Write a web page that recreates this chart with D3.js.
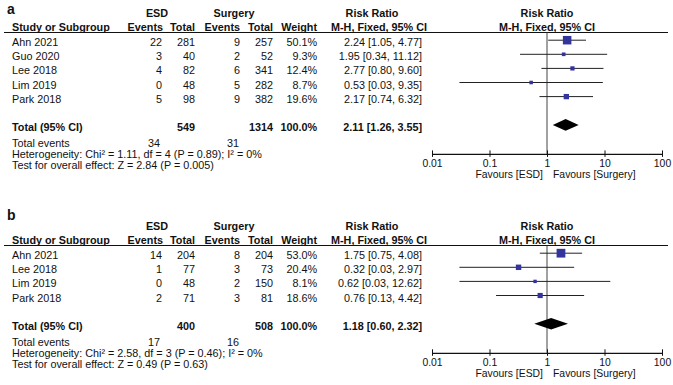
<!DOCTYPE html>
<html>
<head>
<meta charset="utf-8">
<script src="https://cdn.jsdelivr.net/npm/d3@7"></script>
<style>
  body { margin: 0; background: #fff; }
  text { font-family: "Liberation Sans", Arial, sans-serif; fill: #111; }
</style>
</head>
<body>
<div id="chart"></div>
<script>
// panel a
const studiesA = ["Ahn 2021", "Guo 2020", "Lee 2018", "Lim 2019", "Park 2018"];
const esdEventsA = [22, 3, 4, 0, 5];
const esdTotalA = [281, 40, 82, 48, 98];
const surgEventsA = [9, 2, 6, 5, 9];
const surgTotalA = [257, 52, 341, 282, 382];
const weightA = [50.1, 9.3, 12.4, 8.7, 19.6];
const rrA = [2.24, 1.95, 2.77, 0.53, 2.17];
const lowA = [1.05, 0.34, 0.80, 0.03, 0.74];
const highA = [4.77, 11.12, 9.60, 9.35, 6.32];
const totalA = {esd: 549, surg: 1314, esdEv: 34, surgEv: 31, rr: 2.11, lo: 1.26, hi: 3.55};
const hetA = "Heterogeneity: Chi² = 1.11, df = 4 (P = 0.89); I² = 0%";
const testA = "Test for overall effect: Z = 2.84 (P = 0.005)";

// panel b
const studiesB = ["Ahn 2021", "Lee 2018", "Lim 2019", "Park 2018"];
const esdEventsB = [14, 1, 0, 2];
const esdTotalB = [204, 77, 48, 71];
const surgEventsB = [8, 3, 2, 3];
const surgTotalB = [204, 73, 150, 81];
const weightB = [53.0, 20.4, 8.1, 18.6];
const rrB = [1.75, 0.32, 0.62, 0.76];
const lowB = [0.75, 0.03, 0.03, 0.13];
const highB = [4.08, 2.97, 12.62, 4.42];
const totalB = {esd: 400, surg: 508, esdEv: 17, surgEv: 16, rr: 1.18, lo: 0.60, hi: 2.32};
const hetB = "Heterogeneity: Chi² = 2.58, df = 3 (P = 0.46); I² = 0%";
const testB = "Test for overall effect: Z = 0.49 (P = 0.63)";

const axisTicks = [0.01, 0.1, 1, 10, 100];

const width = 673, height = 385;
const svg = d3.select("#chart").append("svg")
  .attr("width", width).attr("height", height);

const x = d3.scaleLog().domain([0.01, 100]).range([432, 662]);
const fmt = d3.format(".2f");

function drawPanel(label, top, labelY, p) {
  const g = svg.append("g").attr("transform", `translate(0,${top})`);
  const fs = 10.8;
  const rows = p.studies.map((s, i) => ({
    name: s, e1: p.e1[i], t1: p.t1[i], e2: p.e2[i], t2: p.t2[i],
    w: p.w[i], rr: p.rr[i], lo: p.lo[i], hi: p.hi[i]
  }));
  const rowY = i => 42.5 + i * 14.1;
  const lastY = rowY(rows.length - 1);
  const totY = lastY + 28, evY = totY + 16, hetY = evY + 11.7, testY = hetY + 10.7;
  const axY = lastY + 55;

  const txt = (xx, yy, s, anchor, bold, size) => g.append("text")
    .attr("x", xx).attr("y", yy).attr("dy", "0.35em")
    .attr("text-anchor", anchor || "start")
    .style("font-size", (size || fs) + "px")
    .style("font-weight", bold ? "bold" : "normal")
    .text(s);

  txt(7, labelY, label, "start", true, 14);

  // headers
  txt(157, 13.5, "ESD", "middle", true);
  txt(234, 13.5, "Surgery", "middle", true);
  txt(372, 13.5, "Risk Ratio", "middle", true);
  txt(547, 13.5, "Risk Ratio", "middle", true);
  txt(12, 27, "Study or Subgroup", "start", true);
  txt(163, 27, "Events", "end", true);
  txt(195, 27, "Total", "end", true);
  txt(240, 27, "Events", "end", true);
  txt(273, 27, "Total", "end", true);
  txt(317, 27, "Weight", "end", true);
  txt(379, 27, "M-H, Fixed, 95% CI", "middle", true);
  txt(547, 27, "M-H, Fixed, 95% CI", "middle", true);

  g.append("line").attr("x1", 4).attr("x2", 668).attr("y1", 32.5).attr("y2", 32.5)
    .attr("stroke", "#111").attr("stroke-width", 1.2);

  // table rows
  rows.forEach((d, i) => {
    const y = rowY(i);
    txt(12, y, d.name);
    txt(162, y, d.e1, "end");
    txt(195, y, d.t1, "end");
    txt(240, y, d.e2, "end");
    txt(273, y, d.t2, "end");
    txt(317, y, d.w.toFixed(1) + "%", "end");
    txt(422, y, `${fmt(d.rr)} [${fmt(d.lo)}, ${fmt(d.hi)}]`, "end");
  });

  txt(12, totY, "Total (95% CI)", "start", true);
  txt(195, totY, p.total.esd, "end", true);
  txt(273, totY, p.total.surg, "end", true);
  txt(317, totY, "100.0%", "end", true);
  txt(422, totY, `${fmt(p.total.rr)} [${fmt(p.total.lo)}, ${fmt(p.total.hi)}]`, "end", true);
  txt(12, evY, "Total events");
  txt(160, evY, p.total.esdEv, "end");
  txt(239, evY, p.total.surgEv, "end");
  txt(12, hetY, p.het);
  txt(12, testY, p.test);

  // null line
  g.append("line").attr("x1", x(1)).attr("x2", x(1)).attr("y1", 32.5).attr("y2", axY)
    .attr("stroke", "#444").attr("stroke-width", 1);

  // CIs and squares, drawn slightly above the text centre
  const markY = i => rowY(i) - 2.3;
  g.selectAll(".ci").data(rows).enter().append("line")
    .attr("x1", d => x(d.lo)).attr("x2", d => x(d.hi))
    .attr("y1", (d, i) => markY(i)).attr("y2", (d, i) => markY(i))
    .attr("stroke", "#222").attr("stroke-width", 1);

  const side = w => 1.2 * Math.sqrt(w);
  g.selectAll(".sq").data(rows).enter().append("rect")
    .attr("x", d => x(d.rr) - side(d.w) / 2)
    .attr("y", (d, i) => markY(i) - side(d.w) / 2)
    .attr("width", d => side(d.w)).attr("height", d => side(d.w))
    .attr("fill", "#33349c");

  // diamond
  const dy = totY - 2;
  g.append("path")
    .attr("d", `M${x(p.total.lo)},${dy} L${x(p.total.rr)},${dy - 5.8} L${x(p.total.hi)},${dy} L${x(p.total.rr)},${dy + 5.8} Z`)
    .attr("fill", "#000");

  // axis
  const ax = g.append("g").attr("transform", `translate(0,${axY})`)
    .call(d3.axisBottom(x).tickValues(axisTicks).tickFormat(d => String(d))
      .tickSizeInner(3).tickSizeOuter(0));
  ax.select(".domain").attr("stroke", "#111").attr("stroke-width", 1.2);
  ax.selectAll(".tick line").attr("y1", -3.5).attr("y2", 3).attr("stroke", "#111");
  ax.selectAll(".tick text").attr("y", 9.5).attr("dy", "0.35em")
    .style("font-size", "10.4px")
    .style("font-family", "Liberation Sans, Arial, sans-serif").attr("fill", "#111");

  txt(543, axY + 20.5, "Favours [ESD]", "end", false, 10.4);
  txt(553, axY + 20.5, "Favours [Surgery]", "start", false, 10.4);
}

drawPanel("a", 0, 9, {
  studies: studiesA, e1: esdEventsA, t1: esdTotalA, e2: surgEventsA, t2: surgTotalA,
  w: weightA, rr: rrA, lo: lowA, hi: highA, total: totalA, het: hetA, test: testA
});
drawPanel("b", 213, 2, {
  studies: studiesB, e1: esdEventsB, t1: esdTotalB, e2: surgEventsB, t2: surgTotalB,
  w: weightB, rr: rrB, lo: lowB, hi: highB, total: totalB, het: hetB, test: testB
});
</script>
</body>
</html>
